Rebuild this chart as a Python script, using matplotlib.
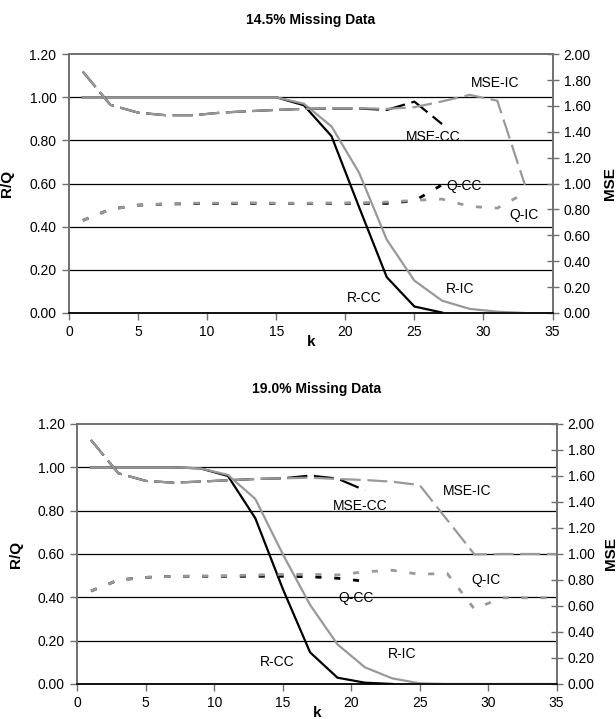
import numpy as np
import matplotlib
matplotlib.use('Agg')
import matplotlib.pyplot as plt
from matplotlib.ticker import FormatStrFormatter, MultipleLocator

plt.rcParams['font.family'] = ['Liberation Sans', 'DejaVu Sans']

# ---------------- data: 14.5% missing ----------------
kTopIC = [1, 3, 5, 7, 9, 11, 13, 15, 17, 19, 21, 23, 25, 27, 29, 31, 33]
kTopCC = [1, 3, 5, 7, 9, 11, 13, 15, 17, 19, 21, 23, 25, 27]
rTopIC = [1.0, 1.0, 1.0, 1.0, 1.0, 1.0, 1.0, 1.0, 0.97, 0.865, 0.65, 0.34,
          0.15, 0.057, 0.019, 0.006, 0.0]
rTopCC = [1.0, 1.0, 1.0, 1.0, 1.0, 1.0, 1.0, 1.0, 0.963, 0.82, 0.49, 0.166,
          0.03, 0.002]
mseTopIC = [1.865, 1.608, 1.548, 1.528, 1.528, 1.548, 1.559, 1.569, 1.577,
            1.582, 1.582, 1.577, 1.59, 1.635, 1.685, 1.64, 0.99]
mseTopCC = [1.865, 1.608, 1.548, 1.528, 1.528, 1.548, 1.559, 1.569, 1.577,
            1.58, 1.58, 1.569, 1.633, 1.46]
qTopIC = [0.429, 0.481, 0.5, 0.506, 0.509, 0.509, 0.511, 0.509, 0.509, 0.51,
          0.511, 0.514, 0.522, 0.528, 0.494, 0.486, 0.556]
qTopCC = [0.429, 0.481, 0.5, 0.505, 0.507, 0.507, 0.508, 0.508, 0.508, 0.508,
          0.508, 0.508, 0.52, 0.594]

# ---------------- data: 19.0% missing ----------------
kBotIC = [1, 3, 5, 7, 9, 11, 13, 15, 17, 19, 21, 23, 25, 27, 29, 31, 33, 35]
kBotCC = [1, 3, 5, 7, 9, 11, 13, 15, 17, 19, 21]
kBotRCC = [1, 3, 5, 7, 9, 11, 13, 15, 17, 19, 21, 23]
rBotIC = [1.0, 1.0, 1.0, 1.0, 0.995, 0.965, 0.854, 0.6, 0.365, 0.183, 0.077,
          0.026, 0.003, 0.0, 0.0, 0.0, 0.0, 0.0]
rBotCC = [1.0, 1.0, 1.0, 1.0, 0.995, 0.96, 0.765, 0.44, 0.146, 0.029, 0.006,
          0.0]
mseBotIC = [1.877, 1.621, 1.562, 1.549, 1.557, 1.567, 1.577, 1.582, 1.587,
            1.577, 1.569, 1.556, 1.53, 1.264, 0.997, 1.0, 1.0, 1.0]
mseBotCC = [1.877, 1.621, 1.562, 1.549, 1.557, 1.567, 1.577, 1.582, 1.603,
            1.58, 1.49]
qBotIC = [0.429, 0.48, 0.492, 0.497, 0.498, 0.5, 0.503, 0.506, 0.506, 0.503,
          0.518, 0.525, 0.506, 0.511, 0.346, 0.398, 0.398, 0.398]
qBotCC = [0.429, 0.48, 0.492, 0.497, 0.497, 0.497, 0.497, 0.497, 0.495,
          0.488, 0.474]

GRAY = '#999999'
SPINE = '#707070'
FS = 10


def draw_panel(ax, title, kIC, kCC, kRCC, rIC, rCC, mseIC, mseCC, qIC, qCC,
               labels, mseX=1.104):
    ax2 = ax.twinx()
    # CC first (black), IC on top (gray)
    ax.plot(kRCC, rCC, color='k', lw=1.6, zorder=3)
    ax.plot(kIC, rIC, color=GRAY, lw=1.6, zorder=4)
    ax.plot(kCC, qCC, color='k', lw=2.0, dashes=(2.2, 4.6), zorder=3)
    ax.plot(kIC, qIC, color=GRAY, lw=2.0, dashes=(2.2, 4.6), zorder=4)
    ax2.plot(kCC, mseCC, color='k', lw=1.6, dashes=(9, 3))
    ax2.plot(kIC, mseIC, color=GRAY, lw=1.6, dashes=(9, 3))

    ax.set_xlim(0, 35)
    ax.set_ylim(0, 1.2)
    ax2.set_ylim(0, 2.0)
    ax.xaxis.set_major_locator(MultipleLocator(5))
    ax.yaxis.set_major_locator(MultipleLocator(0.2))
    ax2.yaxis.set_major_locator(MultipleLocator(0.2))
    ax.yaxis.set_major_formatter(FormatStrFormatter('%.2f'))
    ax2.yaxis.set_major_formatter(FormatStrFormatter('%.2f'))
    for yv in np.arange(0.2, 1.19, 0.2):
        ax.axhline(yv, color='k', lw=0.9, zorder=1)

    for a in (ax, ax2):
        for s in a.spines.values():
            s.set_color(SPINE)
            s.set_linewidth(1.2)
    ax2.spines['bottom'].set_color('k')
    ax.tick_params(axis='x', direction='out', length=5, width=1,
                   color=SPINE, pad=4, labelsize=FS)
    ax.tick_params(axis='y', direction='out', length=5, width=1,
                   color=SPINE, pad=4, labelsize=FS)
    ax2.tick_params(axis='y', direction='inout', length=8, width=1,
                    color=SPINE, pad=4, labelsize=FS)

    ax.set_title(title, fontsize=FS, fontweight='bold', pad=22)
    ax.set_xlabel('k', fontsize=FS + 1, fontweight='bold', labelpad=-3)
    ax.set_ylabel('R/Q', fontsize=FS + 1, fontweight='bold')
    ax2.set_ylabel('MSE', fontsize=FS + 1, fontweight='bold')
    ax.yaxis.set_label_coords(-0.114, 0.5)
    ax2.yaxis.set_label_coords(mseX, 0.5)

    for txt, x, y in labels:
        ax.text(x, y, txt, fontsize=FS, ha='left', va='center', zorder=6)


fig = plt.figure(figsize=(6.16, 7.19), dpi=100)
axTop = fig.add_axes([0.112, 0.5647, 0.785, 0.360])
axBot = fig.add_axes([0.1255, 0.0487, 0.778, 0.3616])

draw_panel(axTop, '14.5% Missing Data', kTopIC, kTopCC, kTopCC,
           rTopIC, rTopCC, mseTopIC, mseTopCC, qTopIC, qTopCC,
           [('MSE-IC', 29.1, 1.068), ('MSE-CC', 24.4, 0.816),
            ('Q-CC', 27.3, 0.588), ('Q-IC', 31.9, 0.454),
            ('R-IC', 27.3, 0.113), ('R-CC', 20.1, 0.071)])
draw_panel(axBot, '19.0% Missing Data', kBotIC, kBotCC, kBotRCC,
           rBotIC, rBotCC, mseBotIC, mseBotCC, qBotIC, qBotCC,
           [('MSE-IC', 26.7, 0.891), ('MSE-CC', 18.7, 0.822),
            ('Q-CC', 19.05, 0.398), ('Q-IC', 28.8, 0.481),
            ('R-IC', 22.7, 0.14), ('R-CC', 13.3, 0.10)], mseX=1.098)

fig.savefig('out.png', dpi=100)
